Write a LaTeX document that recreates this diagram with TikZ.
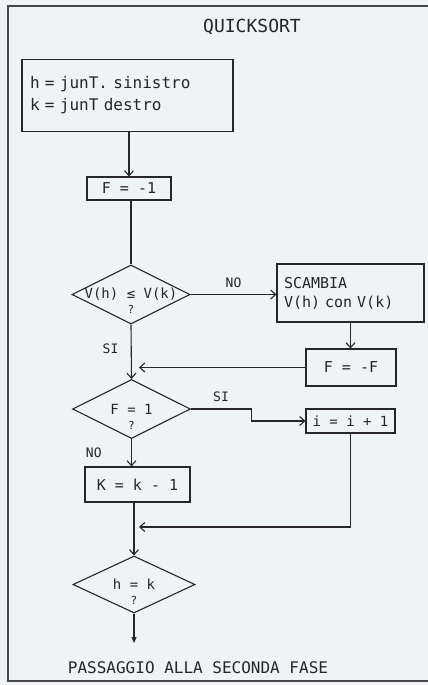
\documentclass[tikz,border=0pt]{standalone}
\usepackage{fontspec}
\setmainfont{DejaVu Sans Mono}
\usetikzlibrary{shapes.geometric,arrows.meta}
\definecolor{carta}{HTML}{EEF3F5}
\definecolor{penna}{HTML}{262626}
\tikzset{blocco/.style={draw=penna,line width=1.1pt,rectangle,inner sep=0pt,text=penna,font=\fontsize{15}{19}\selectfont},
	rombo/.style={blocco,diamond,minimum width=118pt,minimum height=59pt,font=\fontsize{14}{17}\selectfont},
	freccia/.style={-{Straight Barb[length=5pt,width=9pt]}},
	etich/.style={text=penna,font=\fontsize{13}{15}\selectfont}}
\newcommand\cond[1]{\makebox[0pt]{#1}\makebox[0pt]{\smash{\raisebox{-15pt}{\fontsize{11}{12}\selectfont ?}}}}

\begin{document}
\begin{tikzpicture}[x=1pt,y=-1pt,line width=1.1pt,draw=penna]
		\fill[carta] (0,0) rectangle (428,685);
		\useasboundingbox (0,0) rectangle (428,685);
		\draw[penna!85,line width=2pt] (428,6)--(8,6)--(8,681)--(428,681);
		
		\node[etich,font=\fontsize{18}{20}\selectfont] (titolo) at (252,27) {QUICKSORT};
		\node[blocco,align=left,text width=195pt,minimum width=211pt,minimum height=72pt,font=\fontsize{16}{22}\selectfont] (inizio) at (127.5,95.5) {h = junT. sinistro\\k = junT destro};
		\node[blocco,minimum width=84pt,minimum height=23pt] (effe) at (129,188.5) {F = -1};
		\node[rombo] (confr) at (131,294.5) {\cond{V(h) ≤ V(k)}};
		\node[blocco,align=left,text width=133pt,minimum width=147pt,minimum height=58pt] (scambia) at (350.5,293) {SCAMBIA\\V(h) con V(k)};
		\node[blocco,minimum width=90pt,minimum height=37pt] (segno) at (351,367.5) {F = -F};
		\node[rombo] (uno) at (131.5,409) {\cond{F = 1}};
		\node[blocco,minimum width=89pt,minimum height=24pt,font=\fontsize{14}{17}\selectfont] (incr) at (350.5,421) {i = i + 1};
		\node[blocco,minimum width=105pt,minimum height=35pt] (decr) at (137.5,484.5) {K = k - 1};
		\node[rombo,minimum width=122pt,minimum height=57pt] (fine) at (134,584.5) {\cond{h = k}};
		\node[etich,font=\fontsize{16}{18}\selectfont] (fase) at (198,668) {PASSAGGIO ALLA SECONDA FASE};
		
		\coordinate (rientro) at (131,527);
		\coordinate (uscita) at (134,643);
		
		\draw[freccia] (effe.north |- inizio.south) -- (effe.north);
		\draw (effe.south -| confr.north) -- (confr.north);
		\draw[freccia] (confr.east) -- node[etich,above=3pt]{NO} (confr.east -| scambia.west);
		\draw[freccia] (scambia.south) -- (scambia.south |- segno.north);
		\draw[freccia,shorten >=8pt] (segno.west) -- (segno.west -| confr.south);
		\draw[freccia] (confr.south) -- node[etich,left=9pt,pos=.45]{SI} (uno.north);
		\draw[freccia] (uno.east) -- node[etich,above=3pt]{SI} ++(60,0) |- (incr.west);
		\draw[freccia] (uno.south) -- node[etich,left=26pt]{NO} (uno.south |- decr.north);
		\draw[freccia,shorten >=8pt] (incr.south) |- (rientro);
		\draw[freccia] (fine.north |- decr.south) -- (fine.north);
		\draw[-{Triangle[length=6pt,width=5pt]}] (fine.south) -- (uscita);
	\end{tikzpicture}
\end{document}
